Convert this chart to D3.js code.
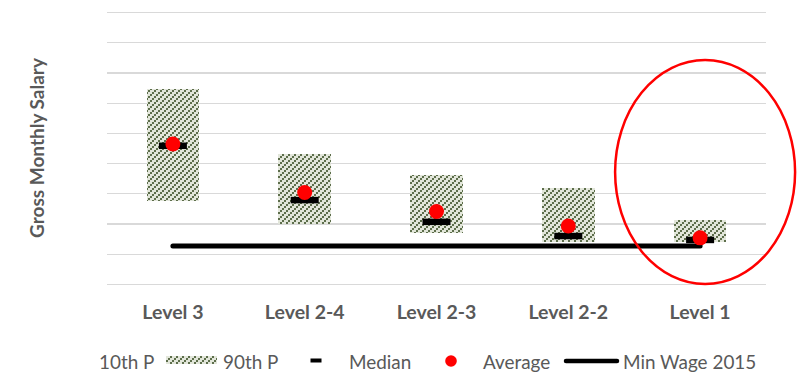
<!DOCTYPE html>
<html>
<head>
<meta charset="utf-8">
<script src="https://cdn.jsdelivr.net/npm/d3@7"></script>
<style>
  html, body { margin: 0; padding: 0; background: #fff; }
  svg { display: block; font-family: Lato, "Open Sans", sans-serif; }
</style>
</head>
<body>
<svg id="chart" width="797" height="375"></svg>
<script>
// Salary bands by level (gross monthly salary)
const levels  = ["Level 3", "Level 2-4", "Level 2-3", "Level 2-2", "Level 1"];
const p10     = [277, 200, 169, 139, 139];
const p90     = [646, 432, 362, 320, 213];
const median  = [459, 279, 207, 160, 147];
const average = [465, 304, 241, 193, 154];
const minWage = 127;
const yTicks  = [0, 100, 200, 300, 400, 500, 600, 700, 800, 900];

const legendItems = ["10th P", "90th P", "Median", "Average", "Min Wage 2015"];

const svg = d3.select("#chart");
const textColor = "#595959";
const gridColor = "#d9d9d9";

const x = d3.scaleBand().domain(levels).range([107, 766]).padding(0);
const y = d3.scaleLinear().domain([0, 900]).range([284.3, 12.7]);

// hatch pattern for the 10th–90th percentile boxes
const defs = svg.append("defs");
const pat = defs.append("pattern")
  .attr("id", "hatch").attr("patternUnits", "userSpaceOnUse")
  .attr("width", 6).attr("height", 6);
pat.append("rect").attr("width", 6).attr("height", 6).attr("fill", "#e2e6da");
for (let py = 0; py < 3; py++) {
  for (let px = 0; px < 3; px++) {
    if ((px + py) % 3 === 2) {
      pat.append("rect").attr("x", px * 2).attr("y", py * 2)
        .attr("width", 2).attr("height", 2).attr("fill", "#5d6e4b");
    }
  }
}

// gridlines
svg.append("g")
  .selectAll("line").data(yTicks).join("line")
  .attr("x1", 107).attr("x2", 766)
  .attr("y1", d => y(d)).attr("y2", d => y(d))
  .attr("stroke", gridColor).attr("stroke-width", 1.2)
  .attr("shape-rendering", "crispEdges");

// category axis (labels only)
const xAxis = svg.append("g")
  .attr("transform", `translate(0,${y(0)})`)
  .call(d3.axisBottom(x).tickSize(0).tickPadding(0));
xAxis.select(".domain").remove();
xAxis.selectAll("text")
  .attr("dy", null).attr("y", 35)
  .attr("fill", textColor)
  .style("font-family", "Lato, sans-serif")
  .style("font-size", "19.5px").style("font-weight", "bold");

// y axis title
svg.append("text")
  .attr("transform", `translate(44,148) rotate(-90)`)
  .attr("text-anchor", "middle")
  .attr("fill", textColor)
  .style("font-size", "19px").style("font-weight", "bold")
  .text("Gross Monthly Salary");

const rows = levels.map((l, i) => ({ level: l, p10: p10[i], p90: p90[i], median: median[i], average: average[i] }));
const boxW = x.bandwidth() * 0.4;
const medW = 28, medH = 6.5;

// percentile boxes
svg.append("g").selectAll("rect").data(rows).join("rect")
  .attr("x", d => x(d.level) + x.bandwidth() / 2 - boxW / 2)
  .attr("width", boxW)
  .attr("y", d => y(d.p90))
  .attr("height", d => y(d.p10) - y(d.p90))
  .attr("fill", "url(#hatch)")
  .attr("shape-rendering", "crispEdges");

// minimum wage line
svg.append("line")
  .attr("x1", x(levels[0]) + x.bandwidth() / 2)
  .attr("x2", x(levels[levels.length - 1]) + x.bandwidth() / 2)
  .attr("y1", y(minWage)).attr("y2", y(minWage))
  .attr("stroke", "#000").attr("stroke-width", 5)
  .attr("stroke-linecap", "round");

// medians
svg.append("g").selectAll("rect").data(rows).join("rect")
  .attr("x", d => x(d.level) + x.bandwidth() / 2 - medW / 2)
  .attr("width", medW)
  .attr("y", d => y(d.median) - medH / 2)
  .attr("height", medH)
  .attr("fill", "#000");

// averages
svg.append("g").selectAll("circle").data(rows).join("circle")
  .attr("cx", d => x(d.level) + x.bandwidth() / 2)
  .attr("cy", d => y(d.average))
  .attr("r", 7.5)
  .attr("fill", "#ff0000");

// highlight around Level 1
svg.append("ellipse")
  .attr("cx", x("Level 1") + x.bandwidth() / 2 + 5)
  .attr("cy", 172)
  .attr("rx", 90).attr("ry", 112)
  .attr("fill", "none").attr("stroke", "#ff0000").attr("stroke-width", 2.5);

// legend
const lg = svg.append("g").style("font-size", "18.9px").attr("fill", textColor);
const base = 369;
lg.append("text").attr("x", 99).attr("y", base).text(legendItems[0]);
lg.append("rect").attr("x", 166).attr("y", 356).attr("width", 51).attr("height", 8)
  .attr("fill", "url(#hatch)").attr("shape-rendering", "crispEdges");
lg.append("text").attr("x", 223).attr("y", base).text(legendItems[1]);
lg.append("rect").attr("x", 310.5).attr("y", 358.5).attr("width", 11).attr("height", 4).attr("fill", "#000");
lg.append("text").attr("x", 349).attr("y", base).text(legendItems[2]);
lg.append("circle").attr("cx", 451).attr("cy", 361).attr("r", 5.8).attr("fill", "#ff0000");
lg.append("text").attr("x", 483).attr("y", base).text(legendItems[3]);
lg.append("line").attr("x1", 566).attr("x2", 617).attr("y1", 361).attr("y2", 361)
  .attr("stroke", "#000").attr("stroke-width", 4.5).attr("stroke-linecap", "round");
lg.append("text").attr("x", 623).attr("y", base).text(legendItems[4]);
</script>
</body>
</html>
